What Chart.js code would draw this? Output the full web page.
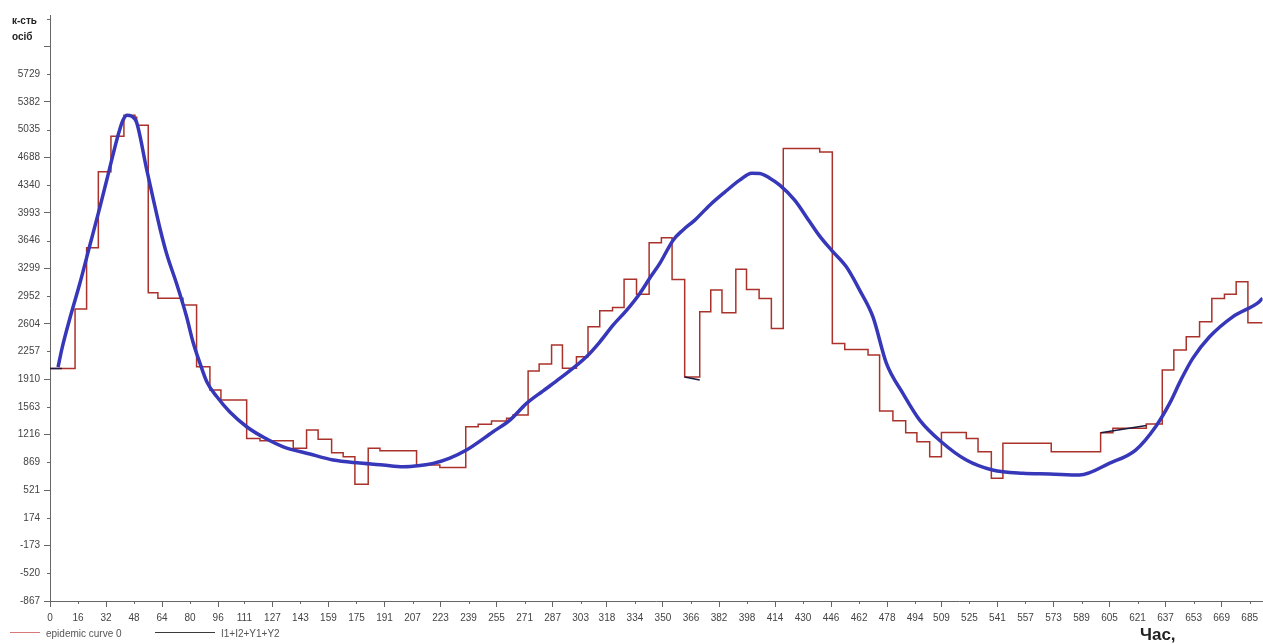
<!DOCTYPE html>
<html>
<head>
<meta charset="utf-8">
<script src="https://cdn.jsdelivr.net/npm/chart.js@4"></script>
<style>
  body { margin: 0; background: #fff; }
  #wrap { width: 1263px; height: 644px; position: relative; }
</style>
</head>
<body>
<div id="wrap"><canvas id="epi-chart"></canvas></div>
<script>
// tick labels
const xTicks = [0, 16, 32, 48, 64, 80, 96, 111, 127, 143, 159, 175, 191, 207, 223, 239, 255, 271, 287, 303, 318, 334, 350, 366, 382, 398, 414, 430, 446, 462, 478, 494, 509, 525, 541, 557, 573, 589, 605, 621, 637, 653, 669, 685];
const yTicks = [-867, -520, -173, 174, 521, 869, 1216, 1563, 1910, 2257, 2604, 2952, 3299, 3646, 3993, 4340, 4688, 5035, 5382, 5729, 6076, 6423];

// epidemic curve 0 (step line): time where a level starts, and level
const epiX = [0, 14.3, 20.9, 27.6, 34.8, 42.2, 48.5, 49.5, 56.1, 61.6, 75.9, 83.7, 91.3, 97.6, 112.3, 119.9, 138.9, 146.5, 153.1, 160.8, 167.4, 174.1, 181.7, 188.4, 209.3, 222.6, 237.4, 244.5, 252.1, 260.7, 264.4, 273.0, 279.3, 286.4, 292.6, 300.6, 307.2, 313.9, 321.2, 327.8, 334.9, 342.1, 349.1, 355.2, 362.4, 371.0, 377.3, 383.7, 391.6, 397.7, 404.9, 411.9, 418.7, 439.5, 446.7, 453.8, 467.1, 473.7, 481.3, 488.6, 495.0, 502.3, 509.0, 523.2, 529.9, 537.5, 544.1, 571.7, 599.9, 606.9, 626.0, 635.1, 641.7, 648.8, 656.4, 663.4, 670.6, 677.3, 684.0, 692.4];
const epiY = [2043, 2788, 3555, 4506, 4953, 5216, 5191, 5091, 2992, 2925, 2838, 2066, 1774, 1649, 1169, 1139, 1044, 1273, 1157, 989, 939, 594, 1044, 1014, 835, 806, 1315, 1345, 1386, 1420, 1461, 2012, 2099, 2337, 2046, 2191, 2566, 2766, 2809, 3163, 2975, 3618, 3680, 3159, 1937, 2754, 3026, 2741, 3288, 3034, 2922, 2546, 4799, 4756, 2358, 2283, 2212, 1511, 1390, 1239, 1127, 939, 1244, 1169, 1002, 669, 1107, 1002, 1239, 1295, 1348, 2024, 2275, 2441, 2629, 2922, 2975, 3129, 2616, 2616];

// I1+I2+Y1+Y2 (only short pieces visible)
const sumX = [0, 6.8, 7, 362.4, 371.0, 372, 600, 626.0];
const sumY = [2043, 2043, null, 1937, 1900, null, 1239, 1330];

// smooth fitted curve (blue)
const fitX = [4.6, 6.9, 11.4, 17.1, 22.8, 28.5, 33.1, 36.5, 39.4, 41.7, 44.0, 46.4, 49.4, 55.1, 58.9, 62.8, 66.6, 72.3, 78.0, 81.6, 85.6, 89.6, 95.3, 102.7, 112.3, 122.7, 133.2, 148.4, 161.7, 176.9, 190.2, 201.7, 211.2, 218.8, 228.3, 237.8, 253.0, 262.6, 272.1, 281.4, 291.1, 306.3, 313.9, 321.5, 329.3, 336.8, 342.5, 348.2, 355.8, 361.3, 368.2, 376.7, 385.3, 393.8, 400.7, 405.3, 411.0, 416.7, 425.2, 433.8, 439.5, 446.2, 454.7, 462.3, 469.9, 477.6, 487.0, 496.6, 508.9, 523.2, 538.2, 555.4, 570.8, 587.9, 604.8, 619.9, 631.3, 639.3, 645.7, 652.5, 662.1, 675.3, 690.4, 692.4];
const fitY = [2062, 2300, 2676, 3114, 3590, 4065, 4466, 4767, 5004, 5154, 5216, 5204, 5128, 4547, 4172, 3797, 3480, 3105, 2692, 2379, 2112, 1874, 1690, 1499, 1315, 1173, 1064, 973, 898, 860, 835, 814, 829, 856, 923, 1023, 1252, 1398, 1607, 1761, 1920, 2191, 2375, 2587, 2775, 2984, 3176, 3360, 3651, 3776, 3902, 4089, 4252, 4402, 4490, 4486, 4427, 4340, 4152, 3880, 3701, 3526, 3317, 3026, 2691, 2108, 1733, 1398, 1127, 898, 773, 731, 723, 710, 856, 1023, 1315, 1607, 1899, 2171, 2441, 2691, 2879, 2925];

const legendItems = ["epidemic curve 0", "I1+I2+Y1+Y2"];
const legendColors = ["rgb(215,120,120)", "#3a3a3a"];

const toPoints = (xs, ys) => xs.map((x, i) => ({ x: x, y: ys[i] }));

// short ticks between the long ones, and the texts around the plot
const extrasPlugin = {
    id: "extras",
    afterDraw(chart) {
        const c = chart.ctx;
        const xs = chart.scales.x;
        const ys = chart.scales.y;
        c.save();
        c.strokeStyle = "#666";
        c.lineWidth = 1;
        c.beginPath();
        xs.ticks.forEach((t, i) => {
            if (i % 2 === 1) {
                const px = Math.round(xs.getPixelForValue(t.value)) + 0.5;
                c.moveTo(px, xs.top);
                c.lineTo(px, xs.top + 3);
            }
        });
        ys.ticks.forEach((t, i) => {
            if (i % 2 === 1) {
                const py = Math.round(ys.getPixelForValue(t.value)) + 0.5;
                c.moveTo(ys.right - 3, py);
                c.lineTo(ys.right, py);
            }
        });
        c.stroke();

        c.fillStyle = "#222";
        c.textBaseline = "middle";
        c.font = "bold 10px 'Liberation Sans', Arial, sans-serif";
        c.fillText("к-сть", 12, 21);
        c.fillText("осіб", 12, 37);
        c.font = "bold 17px 'Liberation Sans', Arial, sans-serif";
        c.fillText("Час,", 1140, 635);

        // legend
        const starts = [10, 155];
        const lens = [30, 60];
        c.font = "10px 'Liberation Sans', Arial, sans-serif";
        legendItems.forEach((txt, i) => {
            c.strokeStyle = legendColors[i];
            c.beginPath();
            c.moveTo(starts[i], 632.5);
            c.lineTo(starts[i] + lens[i], 632.5);
            c.stroke();
            c.fillStyle = "#555";
            c.fillText(txt, starts[i] + lens[i] + 6, 634);
        });
        c.restore();
    }
};

const ctx = document.getElementById("epi-chart").getContext("2d");

const data = {
    datasets: [
        {
            label: "fit",
            data: toPoints(fitX, fitY),
            borderColor: "rgb(55,55,185)",
            borderWidth: 3.5,
            pointRadius: 0,
            cubicInterpolationMode: "monotone",
            order: 0
        },
        {
            label: legendItems[1],
            data: toPoints(sumX, sumY),
            borderColor: "#1a1a40",
            borderWidth: 1.5,
            pointRadius: 0,
            spanGaps: false,
            order: 1
        },
        {
            label: legendItems[0],
            data: toPoints(epiX, epiY),
            borderColor: "rgb(170,50,42)",
            borderWidth: 1.5,
            pointRadius: 0,
            stepped: "before",
            order: 2
        }
    ]
};

const tickTone = ctx => (ctx.index % 2 === 0 ? "#666" : "rgba(0,0,0,0)");

const options = {
    responsive: true,
    maintainAspectRatio: false,
    animation: false,
    layout: { padding: { top: 15, right: 0, left: 0, bottom: 0 } },
    plugins: {
        tooltip: { enabled: false },
        legend: { display: false }
    },
    scales: {
        x: {
            type: "linear",
            min: 0,
            max: 692.4,
            afterBuildTicks: scale => { scale.ticks = xTicks.map(v => ({ value: v })); },
            afterFit: scale => { scale.height = 43; },
            ticks: {
                autoSkip: false,
                maxRotation: 0,
                padding: 5,
                color: "#444",
                font: { size: 10, family: "'Liberation Sans', Arial, sans-serif" },
                callback: v => String(v)
            },
            grid: { drawOnChartArea: false, drawTicks: true, tickLength: 6, color: tickTone, tickColor: tickTone },
            border: { color: "#666", width: 1 }
        },
        y: {
            type: "linear",
            min: -867,
            max: 6470,
            afterBuildTicks: scale => { scale.ticks = yTicks.map(v => ({ value: v })); },
            afterFit: scale => { scale.width = 50; },
            ticks: {
                autoSkip: false,
                padding: 4,
                color: "#444",
                font: { size: 10, family: "'Liberation Sans', Arial, sans-serif" },
                callback: v => (v > 5729 ? "" : String(v))
            },
            grid: { drawOnChartArea: false, drawTicks: true, tickLength: 6, color: tickTone, tickColor: tickTone },
            border: { color: "#666", width: 1 }
        }
    }
};

const epiChart = new Chart(ctx, {
    type: "line",
    data: data,
    options: options,
    plugins: [extrasPlugin]
});
</script>
</body>
</html>
